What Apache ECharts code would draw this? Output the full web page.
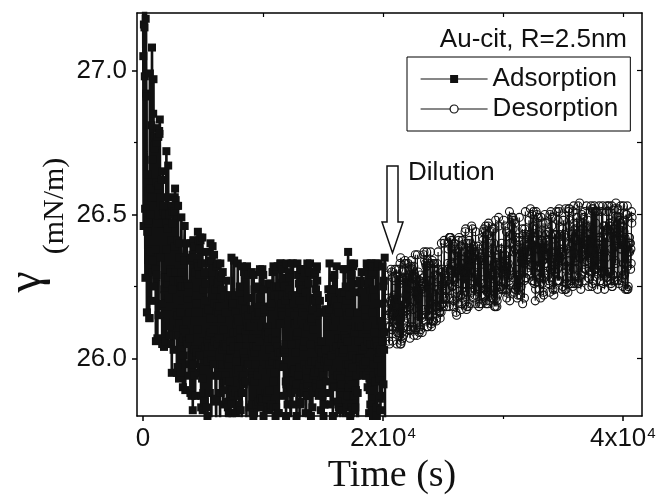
<!DOCTYPE html>
<html>
<head>
<meta charset="utf-8">
<script src="https://cdn.jsdelivr.net/npm/echarts@6/dist/echarts.min.js"></script>
<style>
html,body{margin:0;padding:0;background:#fff;}
#chart{width:659px;height:499px;}
</style>
</head>
<body>
<div id="chart"></div>
<script>
// Adsorption: sampled every 25 s starting at t = 0 s
const adsStart = 0;
const adsStep = 25;
const adsY = [
  27.38, 27.05, 26.46, 27.16, 27.27, 27.15, 26.98, 26.52, 26.28, 27.18, 27.23, 26.92, 26.91, 26.16, 26.44, 26.64, 26.50, 26.47, 26.58, 26.48,
  26.38, 26.14, 26.14, 26.99, 26.50, 26.59, 26.37, 26.20, 26.81, 26.56, 27.08, 26.69, 26.34, 26.30, 26.85, 26.97, 26.25, 26.77, 26.73, 26.74,
  26.56, 26.38, 26.31, 26.06, 26.75, 26.29, 26.61, 26.80, 26.07, 26.77, 26.47, 26.77, 26.15, 26.60, 26.79, 26.78, 26.83, 26.56, 26.35, 26.54,
  26.47, 26.50, 26.18, 26.62, 26.05, 26.19, 26.65, 26.05, 26.51, 26.53, 26.04, 26.24, 26.22, 26.28, 26.50, 26.28, 26.06, 26.38, 26.72, 26.47,
  26.56, 26.26, 26.13, 26.45, 26.67, 26.21, 26.28, 26.08, 26.11, 26.50, 26.18, 26.31, 26.08, 26.30, 26.05, 26.41, 25.95, 26.24, 26.51, 26.47,
  26.53, 26.13, 26.03, 26.27, 26.51, 26.39, 26.56, 26.59, 26.30, 26.55, 26.16, 26.08, 26.53, 25.95, 26.15, 25.97, 26.41, 26.53, 26.27, 26.08,
  25.93, 26.40, 26.12, 26.35, 26.16, 25.95, 26.26, 26.25, 26.49, 26.30, 26.20, 26.06, 26.25, 25.90, 26.01, 26.10, 26.07, 26.34, 26.34, 26.46,
  26.21, 25.89, 26.25, 26.09, 26.13, 26.06, 26.40, 26.21, 26.05, 26.26, 26.18, 26.25, 25.94, 26.23, 25.98, 26.07, 26.16, 26.34, 25.88, 26.40,
  26.35, 26.01, 25.87, 26.01, 25.98, 26.36, 25.82, 25.98, 26.41, 26.41, 26.35, 26.03, 25.94, 26.39, 25.87, 26.30, 26.16, 26.01, 26.19, 26.02,
  26.22, 26.33, 26.10, 26.44, 25.95, 26.32, 26.41, 26.29, 26.38, 26.01, 26.16, 26.42, 26.41, 25.97, 25.83, 25.87, 26.33, 25.93, 26.42, 25.82,
  26.06, 25.88, 25.96, 26.24, 26.29, 26.30, 25.85, 26.04, 26.26, 26.33, 26.20, 26.37, 26.16, 25.83, 25.99, 25.80, 26.06, 25.88, 26.17, 26.04,
  25.96, 26.34, 26.08, 25.88, 26.14, 26.40, 26.09, 26.00, 25.79, 26.34, 26.02, 26.04, 26.39, 26.21, 26.27, 26.10, 25.98, 26.36, 26.19, 26.06,
  25.94, 26.24, 25.85, 25.86, 25.79, 26.14, 26.32, 26.18, 26.33, 26.26, 26.05, 26.27, 26.16, 25.94, 26.29, 26.07, 26.18, 25.78, 26.33, 25.88,
  25.98, 26.28, 26.14, 26.24, 25.98, 26.03, 26.30, 25.89, 25.84, 26.10, 26.05, 26.22, 26.04, 25.92, 25.94, 26.05, 26.16, 26.04, 26.27, 25.92,
  25.85, 25.99, 26.00, 25.83, 25.98, 26.21, 25.81, 26.00, 25.92, 25.81, 25.78, 26.22, 26.06, 26.03, 25.85, 26.35, 25.84, 25.89, 26.20, 26.18,
  26.19, 26.09, 26.04, 25.87, 26.34, 25.78, 25.77, 26.22, 26.16, 25.88, 25.81, 25.99, 25.95, 26.12, 26.09, 26.14, 26.33, 26.13, 25.87, 25.96,
  26.04, 25.84, 26.23, 26.25, 26.07, 26.10, 25.82, 25.94, 25.88, 25.77, 26.32, 26.20, 25.93, 25.88, 25.94, 26.02, 25.91, 26.30, 26.00, 25.99,
  26.29, 25.92, 26.17, 26.09, 26.07, 25.78, 26.13, 26.32, 25.98, 26.11, 26.21, 26.15, 26.29, 25.98, 26.11, 25.83, 25.79, 25.95, 26.11, 25.77,
  25.78, 26.17, 25.84, 26.30, 25.94, 25.93, 26.07, 26.17, 25.80, 26.29, 26.04, 25.92, 26.24, 26.02, 25.79, 25.98, 26.15, 26.04, 26.07, 25.79,
  25.84, 26.18, 26.25, 25.94, 25.85, 26.16, 26.16, 26.16, 26.06, 26.21, 26.31, 25.88, 25.86, 26.30, 25.83, 25.83, 26.11, 25.85, 26.31, 25.86,
  25.96, 26.29, 25.80, 26.24, 26.18, 26.16, 26.17, 25.88, 25.98, 25.78, 26.09, 26.08, 26.11, 25.86, 26.11, 25.83, 25.88, 26.26, 26.07, 26.09,
  25.82, 26.03, 25.89, 25.98, 26.26, 26.18, 25.83, 25.83, 26.19, 25.84, 26.23, 26.07, 26.30, 25.99, 25.92, 26.32, 25.83, 26.25, 26.22, 26.01,
  25.95, 26.06, 25.80, 26.09, 25.83, 26.31, 26.25, 25.98, 26.04, 26.32, 25.81, 26.21, 26.02, 25.81, 26.12, 26.25, 25.98, 26.02, 26.33, 26.33,
  26.12, 26.16, 26.19, 26.32, 26.31, 26.22, 26.15, 26.03, 25.97, 26.26, 25.87, 26.02, 26.25, 26.03, 26.20, 26.05, 25.92, 25.80, 25.91, 26.33,
  26.28, 26.22, 25.84, 25.95, 25.92, 26.13, 26.30, 26.16, 26.23, 26.28, 26.24, 25.90, 25.78, 25.77, 25.88, 26.33, 26.05, 26.22, 25.84, 25.95,
  26.33, 25.92, 25.96, 26.19, 26.15, 26.12, 25.96, 26.21, 26.12, 25.89, 26.02, 26.08, 25.80, 25.91, 26.09, 26.33, 26.13, 26.29, 25.94, 25.94,
  26.26, 26.20, 25.78, 25.97, 25.84, 25.85, 26.31, 26.24, 26.31, 25.88, 26.13, 26.24, 26.31, 26.16, 25.90, 26.28, 26.04, 26.06, 25.98, 26.30,
  25.88, 26.15, 25.81, 26.23, 25.78, 25.96, 25.87, 25.87, 26.33, 25.91, 26.11, 25.93, 26.31, 26.26, 25.98, 26.30, 25.78, 26.33, 26.21, 26.05,
  25.80, 26.13, 25.99, 26.14, 25.89, 25.83, 26.17, 26.10, 26.20, 25.88, 25.94, 26.30, 25.95, 26.29, 26.30, 25.99, 26.20, 26.24, 25.90, 26.31,
  26.32, 26.27, 26.15, 26.22, 26.04, 25.96, 25.87, 25.88, 26.03, 25.98, 26.20, 25.91, 26.16, 25.82, 26.00, 26.02, 26.06, 25.95, 25.95, 25.87,
  25.77, 25.94, 25.80, 25.84, 26.16, 25.99, 25.84, 25.88, 26.17, 26.17, 26.03, 26.16, 25.92, 26.00, 25.97, 26.12, 26.11, 26.00, 26.24, 25.99,
  26.21, 26.17, 26.33, 25.88, 26.21, 26.24, 25.84, 26.20, 26.01, 26.22, 26.20, 25.95, 26.21, 25.80, 26.28, 26.24, 26.11, 25.93, 26.29, 25.90,
  26.19, 26.20, 26.13, 26.03, 26.17, 26.04, 26.32, 25.79, 26.18, 25.94, 25.85, 26.07, 26.16, 25.83, 26.02, 26.23, 25.82, 25.90, 25.78, 25.93,
  25.90, 26.21, 26.05, 25.91, 26.07, 25.82, 26.02, 26.23, 25.78, 26.31, 26.03, 26.08, 26.08, 26.23, 26.31, 26.07, 26.25, 25.78, 25.98, 26.20,
  25.83, 26.15, 26.06, 25.87, 26.37, 25.98, 25.90, 25.84, 26.22, 25.95, 26.16, 25.80, 26.29, 26.33, 26.10, 25.83, 26.29, 25.91, 25.97, 25.82,
  26.01, 26.32, 25.78, 25.87, 26.33, 25.87, 26.09, 26.23, 25.83, 26.11, 25.89, 25.94, 25.94, 26.00, 25.78, 26.16, 25.88, 25.79, 26.11, 26.06,
  26.26, 26.11, 26.00, 26.27, 25.96, 26.27, 26.00, 26.06, 26.23, 26.30, 26.11, 26.03, 26.23, 26.23, 25.98, 26.18, 25.94, 26.19, 26.21, 26.26,
  26.04, 26.15, 26.17, 25.99, 25.94, 26.10, 26.33, 26.31, 26.11, 25.90, 26.06, 26.27, 26.27, 26.29, 25.81, 25.93, 25.89, 26.05, 25.84, 26.33,
  26.05, 26.29, 26.33, 25.82, 26.30, 26.16, 26.32, 25.80, 25.98, 26.24, 25.94, 26.09, 26.21, 26.05, 25.79, 25.92, 26.33, 26.32, 26.06, 25.83,
  25.80, 26.04, 26.32, 26.00, 25.95, 26.33, 26.19, 26.02, 25.93, 26.02, 25.86, 26.13, 25.82, 26.03, 26.13, 25.95, 25.87, 26.02, 26.11, 26.32,
  26.06, 26.25, 25.91, 26.27, 26.03, 26.09, 26.35, 25.78
];

// Desorption: sampled every 25 s starting at t = 20400 s
const desStart = 20400;
const desStep = 25;
const desY = [
  26.14, 26.15, 26.29, 26.21, 26.06, 26.11, 26.05, 26.19, 26.11, 26.20, 26.16, 26.31, 26.19, 26.30, 26.10, 26.10, 26.06, 26.28, 26.11, 26.21,
  26.13, 26.22, 26.16, 26.13, 26.31, 26.27, 26.18, 26.12, 26.14, 26.31, 26.11, 26.05, 26.09, 26.29, 26.13, 26.15, 26.09, 26.31, 26.27, 26.08,
  26.26, 26.33, 26.05, 26.35, 26.05, 26.16, 26.06, 26.20, 26.09, 26.07, 26.28, 26.30, 26.16, 26.08, 26.28, 26.27, 26.13, 26.33, 26.34, 26.19,
  26.22, 26.33, 26.28, 26.14, 26.15, 26.28, 26.11, 26.10, 26.33, 26.17, 26.29, 26.24, 26.18, 26.31, 26.07, 26.11, 26.10, 26.32, 26.10, 26.34,
  26.30, 26.26, 26.28, 26.31, 26.11, 26.17, 26.29, 26.32, 26.08, 26.23, 26.25, 26.20, 26.36, 26.10, 26.23, 26.28, 26.22, 26.27, 26.08, 26.36,
  26.15, 26.13, 26.30, 26.21, 26.23, 26.09, 26.27, 26.27, 26.29, 26.11, 26.10, 26.15, 26.25, 26.14, 26.24, 26.09, 26.15, 26.26, 26.26, 26.28,
  26.36, 26.37, 26.17, 26.34, 26.25, 26.23, 26.33, 26.13, 26.32, 26.26, 26.37, 26.11, 26.32, 26.34, 26.11, 26.17, 26.27, 26.15, 26.33, 26.17,
  26.15, 26.20, 26.27, 26.37, 26.33, 26.12, 26.11, 26.13, 26.19, 26.34, 26.15, 26.33, 26.13, 26.13, 26.18, 26.31, 26.33, 26.25, 26.29, 26.18,
  26.17, 26.24, 26.13, 26.14, 26.18, 26.33, 26.21, 26.18, 26.37, 26.24, 26.31, 26.28, 26.16, 26.16, 26.18, 26.14, 26.30, 26.28, 26.16, 26.40,
  26.19, 26.25, 26.31, 26.30, 26.19, 26.21, 26.18, 26.26, 26.41, 26.40, 26.28, 26.27, 26.29, 26.21, 26.21, 26.24, 26.27, 26.18, 26.24, 26.31,
  26.33, 26.27, 26.38, 26.40, 26.21, 26.18, 26.42, 26.42, 26.42, 26.31, 26.42, 26.33, 26.21, 26.41, 26.38, 26.25, 26.25, 26.28, 26.32, 26.18,
  26.20, 26.39, 26.40, 26.36, 26.28, 26.33, 26.38, 26.38, 26.16, 26.24, 26.15, 26.37, 26.31, 26.34, 26.26, 26.38, 26.41, 26.19, 26.42, 26.30,
  26.29, 26.37, 26.31, 26.22, 26.39, 26.22, 26.17, 26.19, 26.41, 26.21, 26.30, 26.33, 26.22, 26.30, 26.37, 26.33, 26.26, 26.37, 26.44, 26.23,
  26.45, 26.30, 26.40, 26.17, 26.18, 26.30, 26.40, 26.34, 26.34, 26.18, 26.32, 26.32, 26.41, 26.26, 26.19, 26.36, 26.40, 26.30, 26.36, 26.23,
  26.46, 26.27, 26.35, 26.45, 26.38, 26.35, 26.21, 26.39, 26.30, 26.35, 26.22, 26.24, 26.37, 26.44, 26.19, 26.29, 26.29, 26.25, 26.25, 26.28,
  26.39, 26.24, 26.37, 26.34, 26.18, 26.38, 26.25, 26.19, 26.24, 26.35, 26.35, 26.36, 26.19, 26.22, 26.30, 26.34, 26.42, 26.41, 26.44, 26.39,
  26.26, 26.45, 26.22, 26.22, 26.24, 26.24, 26.44, 26.46, 26.19, 26.20, 26.43, 26.37, 26.23, 26.43, 26.19, 26.46, 26.47, 26.34, 26.28, 26.20,
  26.24, 26.23, 26.34, 26.22, 26.40, 26.29, 26.21, 26.31, 26.44, 26.38, 26.30, 26.45, 26.21, 26.25, 26.40, 26.45, 26.18, 26.29, 26.32, 26.18,
  26.48, 26.21, 26.35, 26.28, 26.18, 26.20, 26.22, 26.27, 26.36, 26.35, 26.49, 26.46, 26.33, 26.24, 26.25, 26.33, 26.38, 26.38, 26.32, 26.25,
  26.40, 26.30, 26.24, 26.31, 26.27, 26.33, 26.30, 26.48, 26.32, 26.24, 26.36, 26.31, 26.46, 26.34, 26.24, 26.23, 26.44, 26.21, 26.32, 26.32,
  26.24, 26.28, 26.33, 26.37, 26.29, 26.27, 26.51, 26.20, 26.40, 26.40, 26.29, 26.43, 26.46, 26.49, 26.40, 26.48, 26.43, 26.49, 26.45, 26.28,
  26.37, 26.48, 26.23, 26.24, 26.47, 26.38, 26.41, 26.24, 26.42, 26.31, 26.25, 26.25, 26.21, 26.29, 26.22, 26.38, 26.25, 26.24, 26.42, 26.49,
  26.29, 26.22, 26.41, 26.36, 26.38, 26.25, 26.34, 26.37, 26.37, 26.45, 26.19, 26.43, 26.41, 26.34, 26.33, 26.27, 26.21, 26.45, 26.33, 26.51,
  26.28, 26.28, 26.34, 26.35, 26.39, 26.37, 26.30, 26.43, 26.37, 26.36, 26.39, 26.48, 26.42, 26.38, 26.40, 26.36, 26.52, 26.43, 26.29, 26.35,
  26.32, 26.50, 26.27, 26.27, 26.33, 26.46, 26.51, 26.32, 26.27, 26.26, 26.41, 26.30, 26.20, 26.24, 26.45, 26.51, 26.38, 26.50, 26.29, 26.29,
  26.43, 26.47, 26.49, 26.32, 26.38, 26.44, 26.24, 26.32, 26.40, 26.28, 26.21, 26.33, 26.49, 26.41, 26.28, 26.41, 26.26, 26.34, 26.47, 26.23,
  26.22, 26.40, 26.38, 26.28, 26.50, 26.33, 26.47, 26.37, 26.43, 26.36, 26.41, 26.33, 26.36, 26.38, 26.32, 26.29, 26.26, 26.44, 26.27, 26.44,
  26.23, 26.50, 26.31, 26.43, 26.51, 26.28, 26.30, 26.46, 26.49, 26.49, 26.37, 26.24, 26.32, 26.35, 26.22, 26.43, 26.31, 26.30, 26.24, 26.43,
  26.30, 26.39, 26.43, 26.51, 26.35, 26.27, 26.31, 26.27, 26.48, 26.42, 26.27, 26.51, 26.52, 26.27, 26.35, 26.43, 26.37, 26.38, 26.32, 26.34,
  26.37, 26.36, 26.24, 26.45, 26.25, 26.48, 26.38, 26.48, 26.37, 26.43, 26.42, 26.43, 26.24, 26.52, 26.31, 26.24, 26.38, 26.26, 26.32, 26.28,
  26.34, 26.23, 26.51, 26.40, 26.52, 26.48, 26.52, 26.31, 26.46, 26.27, 26.34, 26.39, 26.26, 26.43, 26.44, 26.40, 26.27, 26.25, 26.51, 26.31,
  26.53, 26.47, 26.26, 26.41, 26.42, 26.45, 26.35, 26.34, 26.29, 26.31, 26.49, 26.41, 26.41, 26.47, 26.26, 26.53, 26.39, 26.26, 26.27, 26.28,
  26.54, 26.35, 26.46, 26.35, 26.24, 26.29, 26.37, 26.50, 26.45, 26.30, 26.40, 26.38, 26.47, 26.49, 26.42, 26.36, 26.38, 26.51, 26.31, 26.27,
  26.36, 26.31, 26.46, 26.53, 26.41, 26.34, 26.41, 26.33, 26.48, 26.28, 26.25, 26.43, 26.35, 26.38, 26.46, 26.41, 26.30, 26.40, 26.53, 26.45,
  26.30, 26.25, 26.52, 26.26, 26.51, 26.52, 26.27, 26.32, 26.35, 26.53, 26.31, 26.51, 26.34, 26.31, 26.47, 26.51, 26.34, 26.31, 26.51, 26.40,
  26.24, 26.30, 26.38, 26.29, 26.41, 26.53, 26.42, 26.42, 26.37, 26.27, 26.38, 26.27, 26.38, 26.51, 26.33, 26.30, 26.30, 26.53, 26.44, 26.26,
  26.46, 26.43, 26.46, 26.24, 26.30, 26.37, 26.42, 26.29, 26.35, 26.28, 26.51, 26.53, 26.45, 26.27, 26.30, 26.42, 26.45, 26.53, 26.51, 26.46,
  26.47, 26.47, 26.30, 26.27, 26.46, 26.26, 26.38, 26.53, 26.25, 26.25, 26.44, 26.29, 26.29, 26.45, 26.27, 26.45, 26.52, 26.27, 26.39, 26.34,
  26.33, 26.54, 26.41, 26.49, 26.44, 26.44, 26.27, 26.49, 26.52, 26.45, 26.43, 26.26, 26.48, 26.48, 26.49, 26.38, 26.47, 26.53, 26.38, 26.27,
  26.31, 26.41, 26.28, 26.46, 26.25, 26.29, 26.53, 26.33, 26.44, 26.48, 26.29, 26.42, 26.30, 26.24, 26.50, 26.33, 26.39, 26.50, 26.24, 26.53,
  26.32, 26.24, 26.25, 26.37, 26.40, 26.42, 26.42, 26.37, 26.40, 26.40, 26.31, 26.38, 26.33, 26.51, 26.47, 26.49
];

const xMajorTicks = [0, 20000, 40000];
const xMinorTicks = [10000, 30000];
const yMajorTicks = [26.0, 26.5, 27.0];
const yMinorTicks = [26.25, 26.75];
const seriesNames = ['Adsorption', 'Desorption'];
const sampleLabel = 'Au-cit, R=2.5nm';
const arrowLabel = 'Dilution';

const adsData = adsY.map((v, i) => [adsStart + i * adsStep, v]);
const desData = desY.map((v, i) => [desStart + i * desStep, v]);

const SANS = '"Liberation Sans", Arial, sans-serif';
const SERIF = '"Liberation Serif", "Times New Roman", serif';
const X_MIN = -500, X_MAX = 41600, Y_MIN = 25.8, Y_MAX = 27.2;

const chart = echarts.init(document.getElementById('chart'), null, {renderer: 'canvas'});

const axisLineStyle = {color: '#000', width: 1.5};

chart.setOption({
  backgroundColor: '#fff',
  animation: false,
  grid: {left: 137, right: 17, top: 13, bottom: 83, containLabel: false},
  legend: {
    data: [
      {name: seriesNames[0], itemStyle: {color: '#111', borderWidth: 0}, lineStyle: {width: 1.2}},
      {name: seriesNames[1], itemStyle: {color: '#fff', borderColor: '#111', borderWidth: 1.2}, lineStyle: {width: 1.2}}
    ],
    orient: 'vertical',
    left: 407,
    top: 57,
    padding: [9, 12, 9, 13],
    itemGap: 4,
    itemWidth: 67,
    itemHeight: 10,
    borderColor: '#000',
    borderWidth: 1,
    borderRadius: 0,
    textStyle: {fontFamily: SANS, fontSize: 26, color: '#111'},
    selectedMode: false
  },
  xAxis: [
    {
      type: 'value', position: 'bottom', min: X_MIN, max: X_MAX,
      axisLine: {show: true, onZero: false, lineStyle: axisLineStyle},
      axisTick: {show: true, inside: false, length: 5, customValues: xMajorTicks, lineStyle: {color: '#000', width: 1.5}},
      axisLabel: {
        show: true, margin: 10, customValues: xMajorTicks, color: '#111',
        fontFamily: SANS, fontSize: 26,
        formatter: function (v) {
          if (v === 0) return '0';
          return '{n|' + (v / 10000) + 'x10}{s|4}';
        },
        rich: {
          n: {fontFamily: SANS, fontSize: 26, color: '#111'},
          s: {fontFamily: SANS, fontSize: 15, color: '#111', verticalAlign: 'top', padding: [0, 0, 10, 1]}
        }
      },
      splitLine: {show: false}
    },
    {
      type: 'value', position: 'bottom', min: X_MIN, max: X_MAX,
      axisLine: {show: false, onZero: false},
      axisTick: {show: true, inside: false, length: 3, customValues: xMinorTicks, lineStyle: {color: '#000', width: 1.2}},
      axisLabel: {show: false},
      splitLine: {show: false}
    },
    {
      type: 'value', position: 'top', min: X_MIN, max: X_MAX,
      axisLine: {show: true, onZero: false, lineStyle: axisLineStyle},
      axisTick: {show: true, inside: true, length: 4, customValues: xMajorTicks.concat(xMinorTicks), lineStyle: {color: '#000', width: 1.2}},
      axisLabel: {show: false},
      splitLine: {show: false}
    }
  ],
  yAxis: [
    {
      type: 'value', position: 'left', min: Y_MIN, max: Y_MAX,
      axisLine: {show: true, onZero: false, lineStyle: axisLineStyle},
      axisTick: {show: true, inside: false, length: 5, customValues: yMajorTicks, lineStyle: {color: '#000', width: 1.5}},
      axisLabel: {
        show: true, margin: 10, customValues: yMajorTicks, color: '#111',
        fontFamily: SANS, fontSize: 26,
        formatter: function (v) { return v.toFixed(1); }
      },
      splitLine: {show: false}
    },
    {
      type: 'value', position: 'left', min: Y_MIN, max: Y_MAX,
      axisLine: {show: false, onZero: false},
      axisTick: {show: true, inside: false, length: 3, customValues: yMinorTicks, lineStyle: {color: '#000', width: 1.2}},
      axisLabel: {show: false},
      splitLine: {show: false}
    },
    {
      type: 'value', position: 'right', min: Y_MIN, max: Y_MAX,
      axisLine: {show: true, onZero: false, lineStyle: axisLineStyle},
      axisTick: {show: true, inside: true, length: 5, customValues: yMajorTicks.concat(yMinorTicks), lineStyle: {color: '#000', width: 1.2}},
      axisLabel: {show: false},
      splitLine: {show: false}
    }
  ],
  series: [
    {
      name: seriesNames[0],
      type: 'line',
      xAxisIndex: 0, yAxisIndex: 0,
      data: adsData,
      symbol: 'rect',
      symbolSize: 8,
      showSymbol: true,
      clip: true,
      lineStyle: {color: '#111', width: 2.6},
      itemStyle: {color: '#111', borderColor: '#111', borderWidth: 0},
      emphasis: {disabled: true},
      z: 2
    },
    {
      name: seriesNames[1],
      type: 'line',
      xAxisIndex: 0, yAxisIndex: 0,
      data: desData,
      symbol: 'circle',
      symbolSize: 8,
      showSymbol: true,
      clip: true,
      lineStyle: {color: '#111', width: 1.1},
      itemStyle: {color: 'rgba(255,255,255,0)', borderColor: '#111', borderWidth: 1.1},
      emphasis: {disabled: true},
      z: 3
    }
  ],
  graphic: [
    {
      type: 'text', right: 32, top: 27, z: 10,
      style: {text: sampleLabel, font: '26px ' + SANS, fill: '#111'}
    },
    {
      type: 'text', left: 408, top: 160, z: 10,
      style: {text: arrowLabel, font: '26px ' + SANS, fill: '#111'}
    },
    {
      type: 'polygon', z: 10,
      shape: {points: [[387, 166], [398, 166], [398, 222], [403, 222], [392.5, 253], [382, 222], [387, 222]]},
      style: {fill: '#fff', stroke: '#111', lineWidth: 1.5}
    },
    {
      type: 'text', x: 27, y: 282, rotation: Math.PI / 2, z: 10,
      style: {text: 'γ', font: '48px ' + SERIF, fill: '#111', align: 'center', verticalAlign: 'middle'}
    },
    {
      type: 'text', x: 55, y: 206, rotation: Math.PI / 2, z: 10,
      style: {text: '(mN/m)', font: '30px ' + SERIF, fill: '#111', align: 'center', verticalAlign: 'middle'}
    },
    {
      type: 'text', x: 392, y: 476, z: 10,
      style: {text: 'Time (s)', font: '38px ' + SERIF, fill: '#111', align: 'center', verticalAlign: 'middle'}
    }
  ]
});
</script>
</body>
</html>
